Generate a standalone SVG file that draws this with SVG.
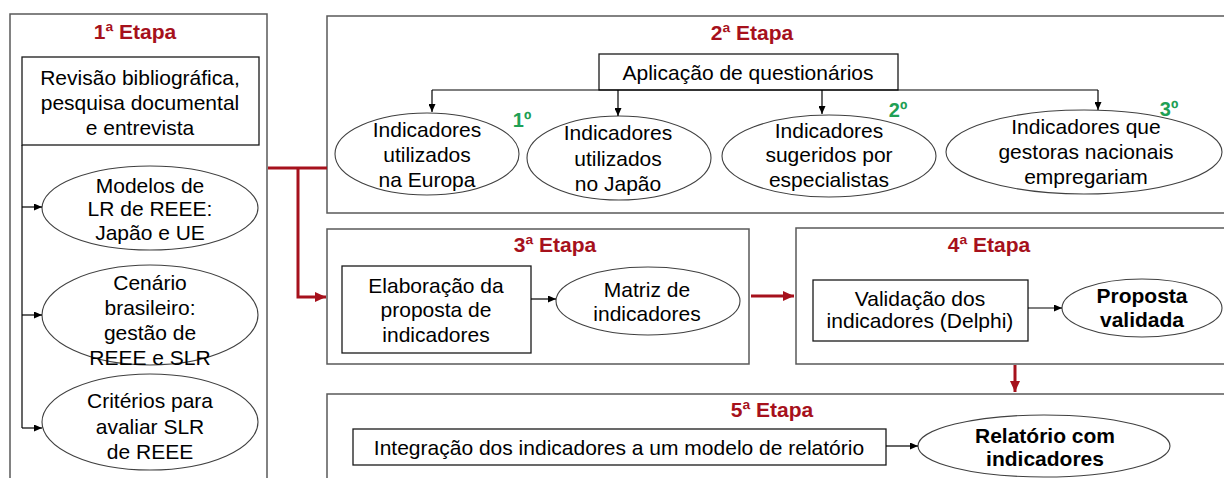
<svg xmlns="http://www.w3.org/2000/svg" width="1224" height="478" viewBox="0 0 1224 478">
<defs>
<marker id="ab" markerUnits="userSpaceOnUse" markerWidth="8" markerHeight="7" refX="8" refY="3.5" orient="auto"><path d="M0,0 L8,3.5 L0,7 z" fill="#000"/></marker>
<marker id="ar" markerUnits="userSpaceOnUse" markerWidth="11" markerHeight="10" refX="11" refY="5" orient="auto"><path d="M0,0 L11,5 L0,10 z" fill="#A6111C"/></marker>
<style>
.stage{fill:#fff;stroke:#595959;stroke-width:1.5}
.box{fill:#fff;stroke:#1a1a1a;stroke-width:1.3}
.ell{fill:#fff;stroke:#404040;stroke-width:1.1}
text{font-family:"Liberation Sans",Arial,sans-serif;font-size:21px;fill:#000;text-anchor:middle}
.title{font-weight:bold;fill:#A6111C}
.b{font-weight:bold}
.ord{font-weight:bold;fill:#1FA055;font-size:20px}
.con{fill:none;stroke:#000;stroke-width:1.2}
.red{fill:none;stroke:#A6111C;stroke-width:3}
</style>
</defs>
<rect width="1224" height="478" fill="#fff"/>

<g id="etapa1">
<rect class="stage" x="10" y="14" width="257" height="480"/>
<text class="title" x="135" y="39">1ª Etapa</text>
</g>
<g id="revisao">
<rect class="box" x="22" y="57" width="237" height="88"/>
<text x="140" y="85">Revisão bibliográfica,</text>
<text x="140" y="110">pesquisa documental</text>
<text x="140" y="135">e entrevista</text>
</g>
<g id="modelos">
<ellipse class="ell" cx="150" cy="208" rx="108" ry="42"/>
<text x="150" y="193">Modelos de</text>
<text x="150" y="216">LR de REEE:</text>
<text x="150" y="240">Japão e UE</text>
</g>
<g id="cenario">
<ellipse class="ell" cx="150" cy="315" rx="108" ry="50"/>
<text x="150" y="290">Cenário</text>
<text x="150" y="315">brasileiro:</text>
<text x="150" y="340">gestão de</text>
<text x="150" y="365">REEE e SLR</text>
</g>
<g id="criterios">
<ellipse class="ell" cx="150" cy="422" rx="108" ry="48"/>
<text x="150" y="408">Critérios para</text>
<text x="150" y="434">avaliar SLR</text>
<text x="150" y="459">de REEE</text>
</g>

<g id="etapa2">
<rect class="stage" x="327" y="16" width="910" height="197"/>
<text class="title" x="752" y="40">2ª Etapa</text>
</g>
<g id="aplicacao">
<rect class="box" x="599" y="54" width="299" height="36"/>
<text x="748" y="80">Aplicação de questionários</text>
</g>
<g id="europa">
<ellipse class="ell" cx="427" cy="154" rx="92" ry="41"/>
<text x="427" y="137">Indicadores</text>
<text x="427" y="162">utilizados</text>
<text x="427" y="187">na Europa</text>
</g>
<g id="japao">
<ellipse class="ell" cx="619" cy="158" rx="92" ry="42"/>
<text x="618" y="140">Indicadores</text>
<text x="618" y="166">utilizados</text>
<text x="618" y="191">no Japão</text>
</g>
<g id="especialistas">
<ellipse class="ell" cx="829" cy="156" rx="107" ry="41"/>
<text x="829" y="138">Indicadores</text>
<text x="829" y="162">sugeridos por</text>
<text x="829" y="187">especialistas</text>
</g>
<g id="gestoras">
<ellipse class="ell" cx="1084" cy="152" rx="138" ry="42"/>
<text x="1086" y="134">Indicadores que</text>
<text x="1086" y="159">gestoras nacionais</text>
<text x="1086" y="184">empregariam</text>
</g>
<g id="ordens">
<text class="ord" x="522" y="127">1º</text>
<text class="ord" x="898" y="117">2º</text>
<text class="ord" x="1169" y="116">3º</text>
</g>

<g id="etapa3">
<rect class="stage" x="327" y="229" width="422" height="135"/>
<text class="title" x="555" y="252">3ª Etapa</text>
</g>
<g id="elaboracao">
<rect class="box" x="342" y="266" width="189" height="87"/>
<text x="436" y="293">Elaboração da</text>
<text x="436" y="317">proposta de</text>
<text x="436" y="342">indicadores</text>
</g>
<g id="matriz">
<ellipse class="ell" cx="648" cy="301" rx="92" ry="34"/>
<text x="647" y="297">Matriz de</text>
<text x="647" y="321">indicadores</text>
</g>

<g id="etapa4">
<rect class="stage" x="796" y="228" width="440" height="136"/>
<text class="title" x="989" y="252">4ª Etapa</text>
</g>
<g id="validacao">
<rect class="box" x="813" y="280" width="215" height="61"/>
<text x="920" y="306">Validação dos</text>
<text x="920" y="328">indicadores (Delphi)</text>
</g>
<g id="proposta">
<ellipse class="ell" cx="1142" cy="308" rx="80" ry="29"/>
<text class="b" x="1142" y="303">Proposta</text>
<text class="b" x="1142" y="327">validada</text>
</g>

<g id="etapa5">
<rect class="stage" x="327" y="394" width="910" height="100"/>
<text class="title" x="772" y="417">5ª Etapa</text>
</g>
<g id="integracao">
<rect class="box" x="353" y="429" width="533" height="36"/>
<text x="619" y="455">Integração dos indicadores a um modelo de relatório</text>
</g>
<g id="relatorio">
<ellipse class="ell" cx="1044" cy="446" rx="126" ry="31"/>
<text class="b" x="1045" y="443">Relatório com</text>
<text class="b" x="1045" y="466">indicadores</text>
</g>

<g id="connectors">
<path class="con" d="M22,145 V428"/>
<path class="con" d="M22,207 H42" marker-end="url(#ab)"/>
<path class="con" d="M22,315 H42" marker-end="url(#ab)"/>
<path class="con" d="M22,428 H42" marker-end="url(#ab)"/>
<path class="con" d="M432,90 H1098"/>
<path class="con" d="M432,90 V112" marker-end="url(#ab)"/>
<path class="con" d="M618,90 V116" marker-end="url(#ab)"/>
<path class="con" d="M822,90 V114" marker-end="url(#ab)"/>
<path class="con" d="M1098,90 V110" marker-end="url(#ab)"/>
<path class="con" d="M531,299 H556" marker-end="url(#ab)"/>
<path class="con" d="M1028,308 H1062" marker-end="url(#ab)"/>
<path class="con" d="M886,446 H918" marker-end="url(#ab)"/>
<path class="red" d="M268,168 H327"/>
<path class="red" d="M298,168 V297 H326" marker-end="url(#ar)"/>
<path class="red" d="M751,296 H794" marker-end="url(#ar)"/>
<path class="red" d="M1015,365 V392" marker-end="url(#ar)"/>
</g>
</svg>
